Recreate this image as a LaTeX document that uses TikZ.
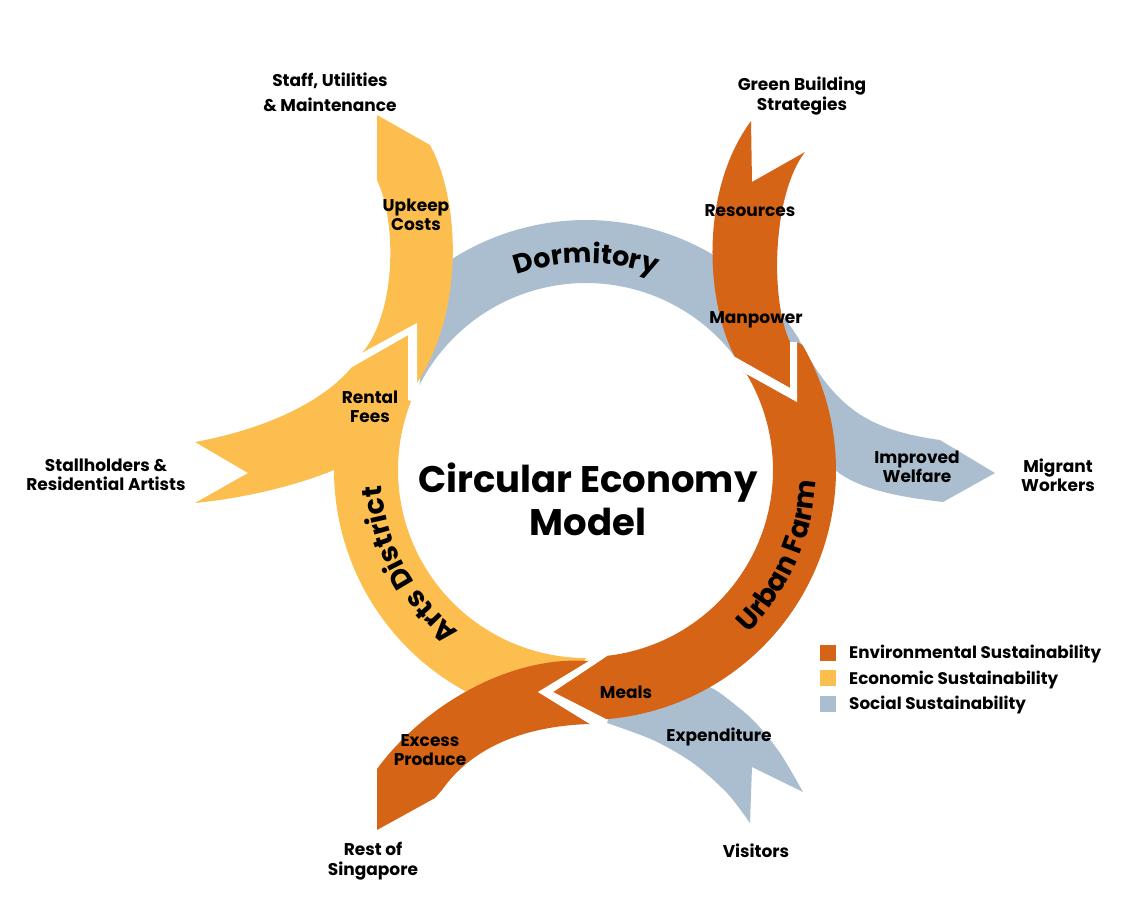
\documentclass[tikz,border=0pt]{standalone}
\usepackage{fontspec}
\setmainfont{Poppins}
\usetikzlibrary{decorations.text}

\definecolor{envorange}{RGB}{214,100,22}
\definecolor{ecoyellow}{RGB}{253,190,80}
\definecolor{socgrey}{RGB}{171,190,207}

\begin{document}
\begin{tikzpicture}[x=1pt,y=-1pt,
  lbl/.style={font=\fontsize{17}{19.5}\selectfont\bfseries, align=center, inner sep=0pt},
  legtxt/.style={font=\fontsize{16.8}{19.5}\selectfont\bfseries, anchor=west, inner sep=0pt},
  legbox/.style={minimum size=16pt, inner sep=0pt},
  envpart/.style={fill=envorange},
  ecopart/.style={fill=ecoyellow},
  socpart/.style={fill=socgrey}]

\useasboundingbox (0,0) rectangle (1140,903);

%Social: Dormitory -> Improved Welfare
\fill[socpart] plot[domain=220:328,samples=80] ({586+250*cos(\x)},{470+250*sin(\x)})
  .. controls (835,410) and (870,430) .. (940,440)
  -- (995,473) -- (943,502)
  .. controls (900,497) and (860,490) .. (835,470)
  -- (765,392)
  -- plot[domain=324:207,samples=80] ({586+187*cos(\x)},{470+187*sin(\x)})
  -- (425,340) -- cycle;

%Social: Expenditure
\fill[socpart] (615,700)
  -- plot[smooth] coordinates {(607,723) (653,740) (693,763) (727,793) (750,823)}
  -- (752,767)
  -- plot[smooth] coordinates {(803,792) (780,753) (753,720) (720,693) (705,685)}
  -- cycle;

%Economic: Rental Fees + Arts District
\fill[ecopart] (195,442) .. controls (260,430) and (320,405) .. (352,367)
  -- (408,335) -- (408,400)
  -- plot[domain=201.5:90,samples=80] ({586+188*cos(\x)},{470+188*sin(\x)})
  -- (560,700)
  -- plot[domain=112:180,samples=60] ({586+252*cos(\x)},{470+252*sin(\x)})
  .. controls (305,482) and (255,497) .. (195,503)
  -- (248,473) -- cycle;

%Economic: Upkeep Costs
\fill[ecopart] (377,115) -- (430,145)
  .. controls (460,200) and (465,310) .. (417,383)
  -- (417,323) -- (362,353)
  .. controls (395,315) and (398,225) .. (377,180)
  -- cycle;

%Environmental: Green Building Strategies
\fill[envpart] (751,121) -- (752,182) -- (805,152)
  .. controls (772,195) and (770,300) .. (790,342)
  -- (790,388) -- (735,357)
  .. controls (705,300) and (700,190) .. (751,121)
  -- cycle;

%Environmental: Urban Farm -> Meals
\fill[envpart] (743,372) -- (797,402) -- (797,342)
  -- plot[domain=-30:85.5,samples=80] ({586+250*cos(\x)},{470+250*sin(\x)})
  -- (553,692)
  -- plot[domain=83.5:-32,samples=80] ({586+187*cos(\x)},{470+187*sin(\x)})
  -- cycle;

%Environmental: Excess Produce
\fill[envpart] (589,661) -- (538,692) -- (590,724)
  .. controls (520,726) and (470,750) .. (442,790)
  -- (435,798) -- (377,830) -- (377,769)
  .. controls (420,710) and (505,655) .. (589,661)
  -- cycle;

%White gaps between heads and notches
\fill[white] (352,367) -- (408,335) -- (408,400) -- (417,385) -- (417,323) -- (362,353) -- cycle;
\fill[white] (735,357) -- (790,388) -- (790,342) -- (797,342) -- (797,402) -- (743,372) -- cycle;
\fill[white] (589,661) -- (538,692) -- (590,724) -- (606,719) -- (553,692) -- (607,656) -- cycle;

%Ring titles
\path[decorate, decoration={text along path, text align=center,
  text={|\fontsize{27}{27}\selectfont\bfseries|Dormitory}}]
  plot[domain=200:340,samples=120] ({586+207*cos(\x)},{470+207*sin(\x)});
\path[decorate, decoration={text along path, text align=center,
  text={|\fontsize{28}{28}\selectfont\bfseries|Arts District}}]
  plot[domain=92:212,samples=120] ({586+205*cos(\x)},{470+205*sin(\x)});
\path[decorate, decoration={text along path, text align=center,
  text={|\fontsize{28}{28}\selectfont\bfseries|Urban Farm}}]
  plot[domain=84:-36,samples=120] ({586+230*cos(\x)},{470+230*sin(\x)});

%Centre
\node[font=\fontsize{37}{43}\selectfont\bfseries, align=center, inner sep=0pt] (title) at (588,499) {Circular Economy\\Model};

%Flow labels
\node[lbl] (upkeep) at (416,215) {Upkeep\\Costs};
\node[lbl] (rental) at (370,407) {Rental\\Fees};
\node[lbl] (resources) at (750,211) {Resources};
\node[lbl] (manpower) at (756,320) {Manpower};
\node[lbl] (welfare) at (917,467) {Improved\\Welfare};
\node[lbl] (meals) at (626,692) {Meals};
\node[lbl] (expend) at (719,737) {Expenditure};
\node[lbl] (excess) at (430,750) {Excess\\Produce};

%Outer parties
\node[lbl] (staff) at (330,92) {Staff, Utilities\\[5.5pt]\& Maintenance};
\node[lbl] (green) at (802,96) {Green Building\\Strategies};
\node[lbl] (stall) at (106,475) {Stallholders \&\\Residential Artists};
\node[lbl] (migrant) at (1058,475) {Migrant\\Workers};
\node[lbl] (rest) at (373,861) {Rest of\\Singapore};
\node[lbl] (visitors) at (756,851) {Visitors};

%Legend
\node[legbox, fill=envorange] (keyenv) at (828,653) {};
\node[legbox, fill=ecoyellow] (keyeco) at (828,678) {};
\node[legbox, fill=socgrey] (keysoc) at (828,704) {};
\node[legtxt] (txtenv) at (849,654) {Environmental Sustainability};
\node[legtxt] (txteco) at (849,680) {Economic Sustainability};
\node[legtxt] (txtsoc) at (849,705) {Social Sustainability};
\end{tikzpicture}
\end{document}
